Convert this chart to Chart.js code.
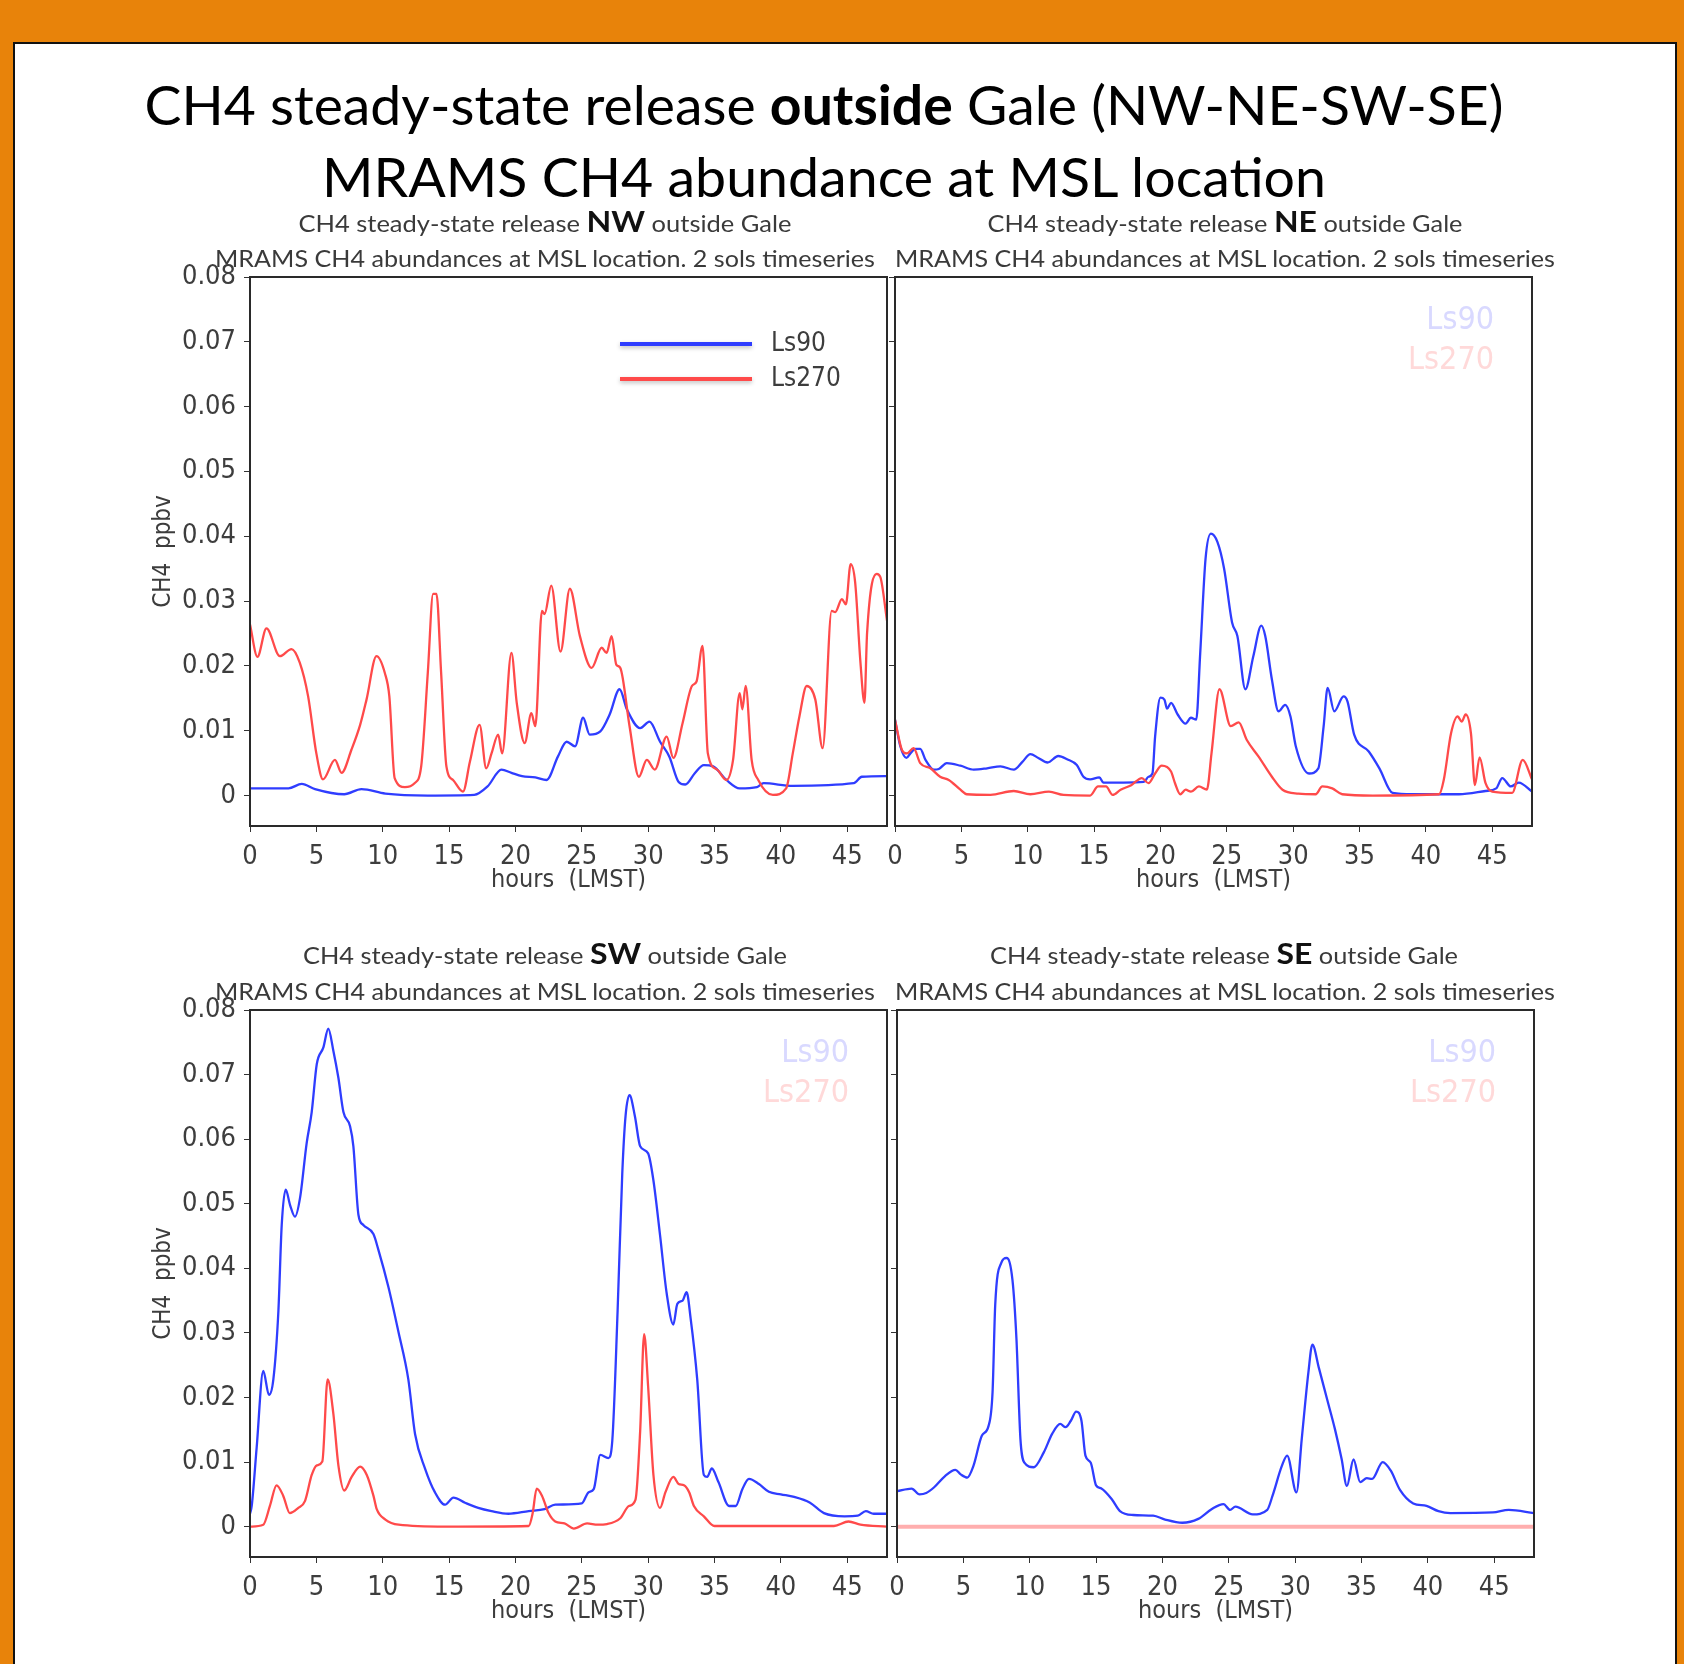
<!DOCTYPE html>
<html>
<head>
<meta charset="utf-8">
<script src="https://cdn.jsdelivr.net/npm/chart.js@4.4.1/dist/chart.umd.min.js"></script>
<style>
  html, body { margin: 0; padding: 0; }
  body { width: 1684px; height: 1664px; background: #e8830a; position: relative; overflow: hidden; }
  #sheet { position: absolute; left: 13px; top: 42px; width: 1660px; height: 1640px; background: #fff; border: 2px solid #111; }
  canvas.panel { position: absolute; }
  #titles { position: absolute; left: 0; top: 0; pointer-events: none; }
</style>
</head>
<body>
<div id="sheet"></div>
<canvas id="nw" class="panel"></canvas>
<canvas id="ne" class="panel"></canvas>
<canvas id="sw" class="panel"></canvas>
<canvas id="se" class="panel"></canvas>

<svg id="titles" width="1684" height="1664" font-family="Lato, 'Open Sans', sans-serif">
  <text x="824" y="125" text-anchor="middle" font-size="55" fill="#000" textLength="1359" lengthAdjust="spacingAndGlyphs">CH4 steady-state release <tspan font-weight="bold">outside</tspan> Gale (NW-NE-SW-SE)</text>
  <text x="824" y="197" text-anchor="middle" font-size="55" fill="#000" textLength="1004" lengthAdjust="spacingAndGlyphs">MRAMS CH4 abundance at MSL location</text>

  <text x="545" y="232" text-anchor="middle" font-size="23" fill="#3a3a3a" textLength="493" lengthAdjust="spacingAndGlyphs">CH4 steady-state release <tspan font-size="29" font-weight="bold" fill="#111">NW</tspan> outside Gale</text>
  <text x="545" y="267" text-anchor="middle" font-size="23" fill="#3a3a3a" textLength="660" lengthAdjust="spacingAndGlyphs">MRAMS CH4 abundances at MSL location. 2 sols timeseries</text>
  <text x="1225" y="232" text-anchor="middle" font-size="23" fill="#3a3a3a" textLength="475" lengthAdjust="spacingAndGlyphs">CH4 steady-state release <tspan font-size="29" font-weight="bold" fill="#111">NE</tspan> outside Gale</text>
  <text x="1225" y="267" text-anchor="middle" font-size="23" fill="#3a3a3a" textLength="660" lengthAdjust="spacingAndGlyphs">MRAMS CH4 abundances at MSL location. 2 sols timeseries</text>

  <text x="545" y="964" text-anchor="middle" font-size="23" fill="#3a3a3a" textLength="484" lengthAdjust="spacingAndGlyphs">CH4 steady-state release <tspan font-size="29" font-weight="bold" fill="#111">SW</tspan> outside Gale</text>
  <text x="545" y="1000" text-anchor="middle" font-size="23" fill="#3a3a3a" textLength="660" lengthAdjust="spacingAndGlyphs">MRAMS CH4 abundances at MSL location. 2 sols timeseries</text>
  <text x="1224" y="964" text-anchor="middle" font-size="23" fill="#3a3a3a" textLength="468" lengthAdjust="spacingAndGlyphs">CH4 steady-state release <tspan font-size="29" font-weight="bold" fill="#111">SE</tspan> outside Gale</text>
  <text x="1225" y="1000" text-anchor="middle" font-size="23" fill="#3a3a3a" textLength="660" lengthAdjust="spacingAndGlyphs">MRAMS CH4 abundances at MSL location. 2 sols timeseries</text>
</svg>

<script>
// values: [hour (LMST), CH4 ppbv]
var nwLs90 = [[0,0.0011],[2.9,0.0011],[3.9,0.0018],[4.9,0.001],[7.1,0.0002],[8.4,0.001],[10.2,0.0003],[13.4,0],[16.9,0.0001],[17.9,0.0014],[18.95,0.004],[19.7,0.0035],[20.5,0.003],[21.5,0.0028],[22.35,0.0024],[23.2,0.006],[23.86,0.0083],[24.5,0.0076],[25.1,0.012],[25.6,0.0094],[26.4,0.0099],[27.1,0.0125],[27.85,0.0164],[28.4,0.0133],[29.4,0.0104],[30.1,0.0114],[30.9,0.0083],[31.6,0.006],[32.3,0.0021],[32.8,0.0017],[33.5,0.0034],[34.2,0.0047],[34.9,0.0045],[35.9,0.0024],[36.9,0.0011],[38.2,0.0013],[38.7,0.0019],[40.9,0.0015],[45.5,0.0019],[46.1,0.0029],[48,0.003]];
var nwLs270 = [[0,0.0264],[0.56,0.0214],[1.24,0.0258],[2.25,0.0215],[3.13,0.0226],[3.75,0.0205],[4.38,0.0153],[5.0,0.0065],[5.5,0.0025],[6.4,0.0055],[6.9,0.0035],[7.65,0.0071],[8.3,0.0109],[8.78,0.0148],[9.53,0.0215],[10.16,0.0189],[10.5,0.0153],[10.9,0.0027],[11.67,0.0013],[12.4,0.0019],[12.9,0.0045],[13.4,0.019],[13.8,0.0311],[14.05,0.0311],[14.4,0.019],[14.8,0.0045],[15.3,0.0024],[16.05,0.0006],[16.57,0.0052],[17.3,0.0109],[17.8,0.0042],[18.2,0.0065],[18.7,0.0094],[19.0,0.0065],[19.7,0.022],[20.1,0.0143],[20.7,0.0081],[21.2,0.0127],[21.5,0.0107],[22.0,0.0285],[22.2,0.028],[22.7,0.0324],[23.4,0.0222],[24.1,0.0319],[24.86,0.0246],[25.74,0.0197],[26.5,0.0228],[26.87,0.022],[27.25,0.0246],[27.6,0.0202],[27.9,0.0197],[28.6,0.0107],[29.3,0.0029],[29.9,0.0055],[30.5,0.004],[31.4,0.0091],[31.9,0.0058],[32.6,0.0112],[33.3,0.0169],[33.65,0.0176],[34.1,0.0231],[34.5,0.0065],[35.2,0.004],[35.9,0.0024],[36.4,0.0055],[36.9,0.0158],[37.1,0.0133],[37.35,0.0169],[37.8,0.0055],[38.3,0.0024],[39.4,0.0001],[40.4,0.0011],[40.9,0.0065],[41.4,0.0122],[41.95,0.0169],[42.6,0.0148],[43.15,0.0073],[43.83,0.0285],[44.1,0.0283],[44.6,0.0303],[44.9,0.0295],[45.26,0.0357],[45.6,0.0329],[46.0,0.0205],[46.3,0.0143],[46.5,0.0251],[47.22,0.0342],[47.5,0.0337],[48,0.027]];

var neLs90 = [[0,0.0117],[0.4,0.0076],[0.86,0.0058],[1.16,0.0065],[1.54,0.0072],[1.9,0.0072],[2.3,0.0055],[2.92,0.004],[3.3,0.0041],[3.9,0.005],[4.93,0.0046],[5.93,0.004],[6.94,0.0042],[7.95,0.0045],[8.95,0.004],[9.6,0.0052],[10.2,0.0064],[10.8,0.0058],[11.5,0.0051],[12.3,0.0061],[12.97,0.0056],[13.7,0.0047],[14.2,0.0029],[14.7,0.0025],[15.4,0.0028],[15.7,0.002],[17.2,0.002],[18.75,0.0021],[19.1,0.0029],[19.4,0.0034],[19.6,0.0091],[20.0,0.0151],[20.3,0.0148],[20.5,0.0134],[20.8,0.0143],[21.3,0.0125],[21.9,0.0111],[22.3,0.012],[22.7,0.0117],[23.0,0.022],[23.4,0.0365],[23.8,0.0404],[24.3,0.0391],[24.8,0.035],[25.4,0.0267],[25.8,0.0246],[26.4,0.0164],[27.0,0.0215],[27.6,0.0262],[27.9,0.0246],[28.4,0.0179],[28.9,0.013],[29.4,0.014],[29.8,0.0122],[30.2,0.0076],[31.2,0.0034],[31.9,0.0042],[32.3,0.0107],[32.6,0.0166],[33.1,0.013],[33.8,0.0153],[34.1,0.0145],[34.6,0.0094],[35.7,0.0068],[36.5,0.0042],[37.5,0.0004],[39.0,0.0002],[42.5,0.0002],[44.5,0.0007],[45.3,0.0011],[45.76,0.0027],[46.4,0.0014],[47.0,0.002],[48,0.0006]];
var neLs270 = [[0,0.0117],[0.53,0.007],[0.9,0.0065],[1.4,0.0073],[1.9,0.005],[2.67,0.0042],[3.4,0.0029],[4.05,0.0024],[4.93,0.0009],[5.4,0.0002],[7.2,0.0001],[8.95,0.0007],[10.2,0.0002],[11.6,0.0006],[12.7,0.0001],[14.7,0],[15.3,0.0014],[15.9,0.0014],[16.4,0.0001],[17.0,0.0009],[17.8,0.0016],[18.6,0.0027],[19.1,0.0019],[19.6,0.0034],[20.1,0.0046],[20.8,0.0037],[21.1,0.0019],[21.5,0.0002],[21.9,0.0009],[22.3,0.0006],[22.9,0.0014],[23.5,0.0009],[23.85,0.0065],[24.45,0.0164],[25.3,0.0107],[25.9,0.0113],[26.5,0.0086],[27.4,0.006],[28.4,0.0029],[29.2,0.0009],[30.4,0.0003],[31.7,0.0002],[32.2,0.0014],[32.95,0.0011],[33.7,0.0002],[36.0,0],[41.0,0.0002],[41.35,0.0024],[41.9,0.0096],[42.4,0.0122],[42.7,0.0114],[43.0,0.0125],[43.4,0.0096],[43.7,0.0016],[44.05,0.0059],[44.5,0.0019],[45.0,0.0006],[46.5,0.0004],[47.3,0.0055],[48,0.0025]];

var swLs90 = [[0,0.002],[0.13,0.0032],[0.5,0.0122],[1.0,0.0241],[1.43,0.0204],[1.76,0.0228],[2.14,0.0334],[2.39,0.0467],[2.69,0.0522],[3.02,0.0498],[3.39,0.048],[3.77,0.0509],[4.27,0.0594],[4.65,0.0642],[5.03,0.0716],[5.53,0.0742],[5.9,0.0771],[6.28,0.0737],[6.66,0.0695],[7.04,0.0642],[7.54,0.062],[7.79,0.0589],[8.17,0.0483],[8.54,0.0467],[9.3,0.0453],[9.67,0.0429],[10.43,0.0371],[11.18,0.0302],[11.93,0.0228],[12.44,0.0143],[13.19,0.009],[13.94,0.0053],[14.7,0.0034],[15.33,0.0045],[16.2,0.0037],[17.2,0.0029],[18.2,0.0024],[19.47,0.002],[21.0,0.0024],[22.2,0.0027],[23.0,0.0034],[25.0,0.0036],[25.5,0.0053],[25.9,0.0058],[26.4,0.0111],[27.0,0.0106],[27.3,0.0133],[27.7,0.0334],[28.05,0.0546],[28.3,0.0636],[28.6,0.0668],[29.0,0.0636],[29.4,0.0589],[30.0,0.0578],[30.4,0.0536],[30.9,0.0451],[31.4,0.0361],[31.9,0.0313],[32.2,0.0345],[32.6,0.035],[32.9,0.0363],[33.2,0.0323],[33.7,0.0228],[34.2,0.008],[34.45,0.0077],[34.8,0.009],[35.3,0.0069],[36.1,0.0032],[36.6,0.0032],[37.1,0.0058],[37.6,0.0074],[38.35,0.0066],[39.1,0.0054],[40.0,0.005],[41.0,0.0046],[42.2,0.0037],[43.25,0.0021],[44.8,0.0016],[45.8,0.0017],[46.4,0.0024],[47.0,0.002],[48,0.002]];
var swLs270 = [[0,0],[1.0,0.0003],[1.5,0.0032],[2.0,0.0064],[2.5,0.0048],[3.0,0.0021],[3.64,0.0029],[4.15,0.004],[4.65,0.008],[5.03,0.0095],[5.45,0.0101],[5.85,0.0228],[6.28,0.0175],[6.66,0.0095],[7.1,0.0056],[7.66,0.0077],[8.3,0.0093],[8.8,0.008],[9.3,0.0048],[9.55,0.0027],[10.2,0.0011],[11.2,0.0003],[14.7,0],[21.0,0.0001],[21.3,0.0021],[21.6,0.0059],[22.0,0.0048],[22.5,0.0021],[23.0,0.0008],[23.7,0.0005],[24.4,-0.0003],[25.4,0.0005],[26.2,0.0003],[26.9,0.0004],[27.9,0.0013],[28.55,0.0032],[29.05,0.0042],[29.4,0.0148],[29.7,0.0298],[30.0,0.0217],[30.4,0.008],[30.9,0.0029],[31.3,0.0053],[31.9,0.0077],[32.3,0.0066],[32.7,0.0064],[33.1,0.0053],[33.45,0.0032],[34.2,0.0016],[35.0,0.0001],[44.0,0.0001],[45.1,0.0008],[46.0,0.0003],[48,0]];

var seLs90 = [[0,0.0055],[1.1,0.0059],[1.7,0.005],[2.2,0.0052],[2.8,0.0061],[3.6,0.0078],[4.4,0.0088],[4.8,0.0081],[5.3,0.0076],[5.76,0.0094],[6.4,0.0141],[6.9,0.0156],[7.2,0.0208],[7.4,0.0343],[7.85,0.0408],[8.26,0.0416],[8.7,0.0382],[9.0,0.0291],[9.3,0.0136],[9.6,0.0099],[10.3,0.0092],[11.06,0.0115],[11.7,0.0144],[12.3,0.0159],[12.7,0.0154],[13.1,0.0164],[13.5,0.0178],[13.9,0.0164],[14.2,0.011],[14.6,0.0099],[15.0,0.0064],[15.4,0.0059],[16.2,0.0042],[16.8,0.0024],[17.8,0.0018],[19.3,0.0017],[20.2,0.0011],[21.5,0.0006],[22.7,0.0012],[23.7,0.0027],[24.6,0.0035],[25.1,0.0026],[25.5,0.0031],[26.8,0.0019],[27.9,0.0026],[28.3,0.0048],[29.0,0.0094],[29.4,0.011],[30.1,0.0053],[30.5,0.0136],[31.0,0.0239],[31.3,0.0282],[31.8,0.0245],[32.4,0.0198],[33.0,0.0151],[33.5,0.0105],[33.9,0.0063],[34.4,0.0104],[34.9,0.0069],[35.4,0.0075],[35.8,0.0074],[36.6,0.01],[37.2,0.0087],[37.9,0.0057],[38.9,0.0036],[39.9,0.0032],[40.8,0.0024],[41.7,0.0021],[44.9,0.0022],[46.1,0.0026],[48,0.0021]];
var seLs270 = [[0,0],[48,0]];

var seriesNames = ['Ls90', 'Ls270'];
var hourRange = [0, 48];
var ppbvRange = [-0.0047, 0.08];
var hourStep = 5;
var ppbvStep = 0.01;

var NARROW = "'Liberation Sans Narrow', 'Arial Narrow', 'DejaVu Sans Condensed', sans-serif";
var AXIS_W = 120, AXIS_H = 90, PAD_T = 40, PAD_R = 12;

// outline box round the plot area, and the in-panel legend
var framePlugin = {
    id: 'frame',
    afterDatasetsDraw: function(chart) {
        var a = chart.chartArea, ctx = chart.ctx;
        ctx.save();
        ctx.strokeStyle = '#2a2a2a';
        ctx.lineWidth = 2;
        ctx.strokeRect(a.left, a.top, a.right - a.left, a.bottom - a.top);
        ctx.restore();
    },
    afterDraw: function(chart, args, opts) {
        var a = chart.chartArea, ctx = chart.ctx;
        ctx.save();
        ctx.textBaseline = 'middle';
        if (opts.style === 'lines') {
            var rows = [[seriesNames[0], '#2f3dff', a.top + 67], [seriesNames[1], '#ff4a4a', a.top + 102]];
            rows.forEach(function(r) {
                ctx.shadowColor = 'rgba(0,0,0,0.25)';
                ctx.shadowBlur = 4;
                ctx.shadowOffsetY = 2;
                ctx.strokeStyle = r[1];
                ctx.lineWidth = 4;
                ctx.beginPath();
                ctx.moveTo(a.left + 370, r[2]);
                ctx.lineTo(a.left + 502, r[2]);
                ctx.stroke();
                ctx.shadowColor = 'transparent';
                ctx.fillStyle = '#3d3d3d';
                ctx.font = '26px ' + NARROW;
                ctx.textAlign = 'left';
                ctx.fillText(r[0], a.left + 521, r[2]);
            });
        } else {
            ctx.font = '32px ' + NARROW;
            ctx.textAlign = 'right';
            ctx.fillStyle = '#d9d9ff';
            ctx.fillText(seriesNames[0], a.right - 38, a.top + 44);
            ctx.fillStyle = '#ffd9d9';
            ctx.fillText(seriesNames[1], a.right - 38, a.top + 84);
        }
        ctx.restore();
    }
};

function toPoints(pairs) {
    return pairs.map(function(p) { return {x: p[0], y: p[1]}; });
}

function makePanel(id, box, ls90, ls270, cfg) {
    var canvas = document.getElementById(id);
    var w = box.right - box.left + AXIS_W + PAD_R;
    var h = box.bottom - box.top + PAD_T + AXIS_H;
    canvas.width = w;
    canvas.height = h;
    canvas.style.left = (box.left - AXIS_W) + 'px';
    canvas.style.top = (box.top - PAD_T) + 'px';
    canvas.style.width = w + 'px';
    canvas.style.height = h + 'px';

    var tickFont = {family: NARROW, size: 27};
    return new Chart(canvas, {
        type: 'line',
        data: {
            datasets: [
                {
                    label: seriesNames[1],
                    data: toPoints(ls270),
                    borderColor: cfg.redColor || '#ff4a4a',
                    borderWidth: cfg.redWidth || 2.3,
                    pointRadius: 0,
                    fill: false,
                    cubicInterpolationMode: 'monotone'
                },
                {
                    label: seriesNames[0],
                    data: toPoints(ls90),
                    borderColor: '#2f3dff',
                    borderWidth: 2.3,
                    pointRadius: 0,
                    fill: false,
                    cubicInterpolationMode: 'monotone'
                }
            ]
        },
        options: {
            responsive: false,
            animation: false,
            events: [],
            layout: {padding: {left: 0, top: PAD_T, right: PAD_R, bottom: 0}},
            scales: {
                x: {
                    type: 'linear',
                    min: hourRange[0],
                    max: hourRange[1],
                    ticks: {
                        stepSize: hourStep,
                        includeBounds: false,
                        autoSkip: false,
                        maxRotation: 0,
                        padding: 9,
                        color: '#3d3d3d',
                        font: tickFont,
                        callback: function(v) { return String(v); }
                    },
                    grid: {drawOnChartArea: false, drawTicks: true, tickLength: 6, color: '#333'},
                    border: {display: false},
                    title: {
                        display: true,
                        text: 'hours  (LMST)',
                        color: '#3d3d3d',
                        font: {family: NARROW, size: 25},
                        padding: {top: 0, bottom: 21}
                    },
                    afterFit: function(s) { s.height = AXIS_H; }
                },
                y: {
                    min: ppbvRange[0],
                    max: ppbvRange[1],
                    ticks: {
                        display: cfg.yLabels,
                        stepSize: ppbvStep,
                        includeBounds: false,
                        padding: 8,
                        color: '#3d3d3d',
                        font: tickFont,
                        callback: function(v) { return Math.abs(v) < 1e-9 ? '0' : v.toFixed(2); }
                    },
                    grid: {drawOnChartArea: false, drawTicks: true, tickLength: 6, color: '#333'},
                    border: {display: false},
                    title: {
                        display: cfg.yLabels,
                        text: 'CH4  ppbv',
                        color: '#3d3d3d',
                        font: {family: NARROW, size: 24},
                        padding: {top: 19, bottom: 0}
                    },
                    afterFit: function(s) { s.width = AXIS_W; }
                }
            },
            plugins: {
                legend: {display: false},
                tooltip: {enabled: false},
                frame: {style: cfg.legend}
            }
        },
        plugins: [framePlugin]
    });
}

makePanel('nw', {left: 250, top: 277, right: 887, bottom: 826}, nwLs90, nwLs270, {yLabels: true, legend: 'lines'});
makePanel('ne', {left: 895, top: 277, right: 1532, bottom: 826}, neLs90, neLs270, {yLabels: false, legend: 'faded'});
makePanel('sw', {left: 250, top: 1010, right: 887, bottom: 1557}, swLs90, swLs270, {yLabels: true, legend: 'faded'});
makePanel('se', {left: 897, top: 1010, right: 1534, bottom: 1557}, seLs90, seLs270, {yLabels: false, legend: 'faded', redColor: 'rgba(255,120,120,0.6)', redWidth: 4});
</script>
</body>
</html>
